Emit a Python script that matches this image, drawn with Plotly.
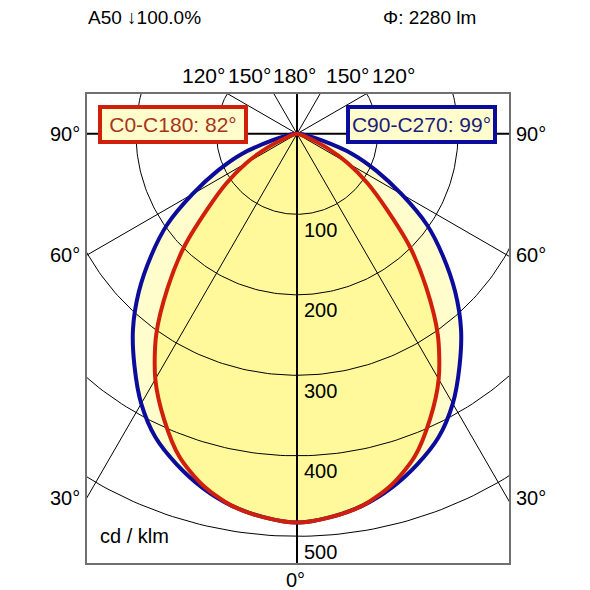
import numpy as np
import plotly.graph_objects as go

# luminous intensity in cd/klm, gamma 0..90 deg (symmetric curves)
gamma = [0, 5, 10, 15, 20, 25, 30, 35, 40, 45, 50, 55, 60, 65, 70, 75, 80, 85, 90]
c0_c180 = [483, 478, 469, 452, 427, 391, 352, 305, 250, 198, 145, 107, 73, 40, 16, 6, 2, 1, 0]
c90_c270 = [483, 478, 469, 455, 437, 416, 387, 352, 317, 278, 237, 197, 150, 109, 73, 32, 12, 4, 0]

grid_radii = [100, 200, 300, 400, 500, 600]
radial_labels = ["100", "200", "300", "400", "500"]
spoke_angles = [-150, -120, -60, -30, 30, 60, 120, 150]

side_labels = ["90°", "60°", "30°"]
side_angles = [90, 60, 30]
top_labels = ["120°", "150°", "180°", "150°", "120°"]

header_left = "A50 ↓100.0%"
header_right = "Φ: 2280 lm"
legend_red = "C0-C180: 82°"
legend_blue = "C90-C270: 99°"

RED = "#D0200C"
BLUE = "#0C0C9C"
FONT = "Liberation Sans, Arial, sans-serif"

# frame in screenshot pixels
FL, FR, FT, FB = 86, 508, 93, 562
PX = 0.805           # px per cd/klm
CX, CY = 296, 132.8  # centre of the diagram in px


def to_data(px, py):
    return (px - CX) / PX, (CY - py) / PX


def polar_xy(g_deg, r):
    g = np.radians(np.asarray(g_deg, dtype=float))
    r = np.asarray(r, dtype=float)
    return r * np.sin(g), -r * np.cos(g)


def full_curve(vals):
    g = [-a for a in gamma[::-1]] + gamma[1:]
    r = vals[::-1] + vals[1:]
    return polar_xy(g, r)


fig = go.Figure()

bx, by = full_curve(c90_c270)
rx, ry = full_curve(c0_c180)
curve = dict(shape="spline", smoothing=0.8)

fig.add_trace(go.Scatter(x=bx, y=by, mode="lines", fill="toself", fillcolor="#FFFDCC",
                         line=dict(width=0, **curve), hoverinfo="skip"))
fig.add_trace(go.Scatter(x=rx, y=ry, mode="lines", fill="toself", fillcolor="#FFF99C",
                         line=dict(width=0, **curve), hoverinfo="skip"))

# thin grid: circles + spokes
t = np.linspace(0, 2 * np.pi, 361)
gx, gy = [], []
for r in grid_radii:
    gx += list(r * np.cos(t)) + [None]
    gy += list(r * np.sin(t)) + [None]
for a in spoke_angles:
    sx, sy = polar_xy([a, a], [0, 900])
    gx += list(sx) + [None]
    gy += list(sy) + [None]
fig.add_trace(go.Scatter(x=gx, y=gy, mode="lines", line=dict(color="black", width=1),
                         hoverinfo="skip"))

# main axes (0-180 and 90-270)
ax_x, ax_y = [], []
for a in [0, 90, 180, -90]:
    sx, sy = polar_xy([a, a], [0, 900])
    ax_x += list(sx) + [None]
    ax_y += list(sy) + [None]
fig.add_trace(go.Scatter(x=ax_x, y=ax_y, mode="lines", line=dict(color="black", width=2),
                         hoverinfo="skip"))

fig.add_trace(go.Scatter(x=bx, y=by, mode="lines", line=dict(color=BLUE, width=4, **curve),
                         hoverinfo="skip"))
fig.add_trace(go.Scatter(x=rx, y=ry, mode="lines", line=dict(color=RED, width=4, **curve),
                         hoverinfo="skip"))

ann = []


def text(px, py, s, xanchor="center", size=20, **kw):
    color = kw.pop("color", "black")
    ann.append(dict(xref="paper", yref="paper",
                    x=(px - FL) / (FR - FL), y=(FB - py) / (FB - FT),
                    text=s, showarrow=False, xanchor=xanchor, yanchor="middle",
                    font=dict(family=FONT, size=size, color=color), **kw))


for r, lab in zip(grid_radii, radial_labels):
    ann.append(dict(x=6, y=-r - 19, text=lab, showarrow=False, xanchor="left", yanchor="middle",
                    font=dict(family=FONT, size=20, color="black")))

for lab, a in zip(side_labels, side_angles):
    py = CY + (CX - FL) / np.tan(np.radians(a)) if a != 90 else CY
    text(81, py, lab, xanchor="right")
    text(513, py, lab, xanchor="left")

for px, lab in zip([202, 248, 293, 346, 392], top_labels):
    text(px, 75, lab, size=21)

text(294, 579, "0°")
text(97, 535, "cd / klm", xanchor="left")
text(85, 17, header_left, xanchor="left", size=19)
text(380, 17, header_right, xanchor="left", size=19)

text(172, 123.5, legend_red, size=21, color="#A8341A", bgcolor="#FFFDCC",
     bordercolor=RED, borderwidth=4, borderpad=2, width=138, height=27)
text(420.5, 123.5, legend_blue, size=21, color="#1C1C7C", bgcolor="#FFFDCC",
     bordercolor=BLUE, borderwidth=4, borderpad=2, width=139, height=27)

x0, y1 = to_data(FL, FT)
x1, y0 = to_data(FR, FB)

# the page adds ~7px of body margin, so shift the plot box accordingly
OFF = 7
fig.update_layout(
    width=590, height=590,
    margin=dict(l=FL - OFF, r=590 - FR + OFF, t=FT - OFF, b=590 - FB + OFF),
    paper_bgcolor="white", plot_bgcolor="white",
    showlegend=False,
    annotations=ann,
    xaxis=dict(range=[x0, x1], showgrid=False, zeroline=False, showticklabels=False,
               ticks="", showline=True, mirror=True, linecolor="#707070", linewidth=2),
    yaxis=dict(range=[y0, y1], showgrid=False, zeroline=False, showticklabels=False,
               ticks="", showline=True, mirror=True, linecolor="#707070", linewidth=2),
)

fig.write_html("out.html")
